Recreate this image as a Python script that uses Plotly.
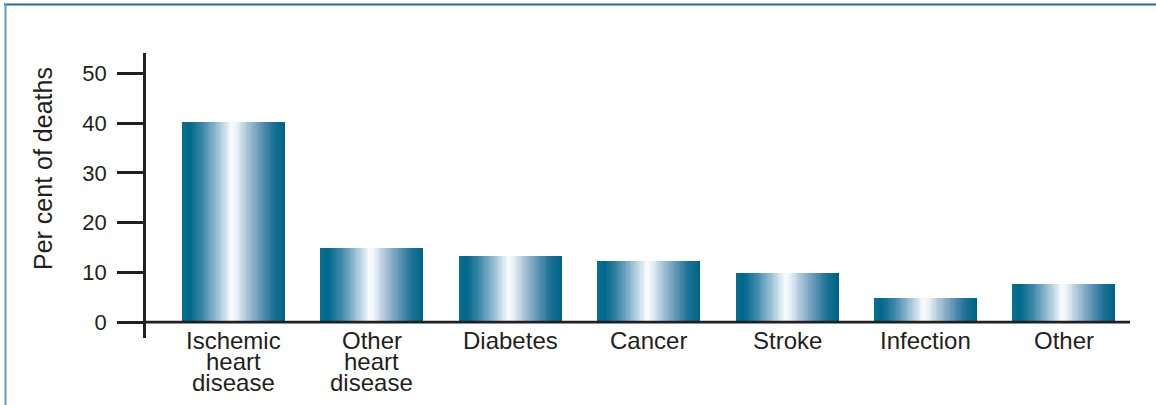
import plotly.graph_objects as go
from plotly.colors import sample_colorscale

# ---- data ----
categories = ["Ischemic heart disease", "Other heart disease", "Diabetes",
              "Cancer", "Stroke", "Infection", "Other"]
tick_labels = ["Ischemic<br>heart<br>disease", "Other<br>heart<br>disease", "Diabetes",
               "Cancer", "Stroke", "Infection", "Other"]
values = [40.2, 14.9, 13.3, 12.2, 9.8, 4.9, 7.6]
y_ticks = [0, 10, 20, 30, 40, 50]
y_title = "Per cent of deaths"

# ---- style ----
INK = "#231f20"
FONT = "Liberation Sans, Arial, Helvetica, sans-serif"
gradient = [
    [0.00, "rgb(6,112,145)"],
    [0.07, "rgb(0,104,138)"],
    [0.20, "rgb(62,137,170)"],
    [0.32, "rgb(142,182,205)"],
    [0.42, "rgb(206,225,236)"],
    [0.48, "rgb(250,252,253)"],
    [0.53, "rgb(232,241,247)"],
    [0.63, "rgb(172,199,217)"],
    [0.76, "rgb(102,153,184)"],
    [0.89, "rgb(28,114,150)"],
    [1.00, "rgb(0,100,134)"],
]
BAR_W = 0.745
N = 60
step = BAR_W / N
cols = sample_colorscale(gradient, [i / (N - 1) for i in range(N)])

fig = go.Figure()
for i in range(N):
    # each slice spans from its left edge to the bar's right edge; later slices cover earlier ones
    fig.add_trace(go.Bar(
        x=categories, y=values,
        offset=-BAR_W / 2 + i * step,
        width=BAR_W - i * step,
        marker=dict(color=cols[i], line=dict(width=0)),
        showlegend=False, hoverinfo="skip" if i else "x+y",
    ))

L, R, T, B = 146, 26, 53, 67
W, H = 1156, 405
pw, ph = W - L - R, H - T - B

def px_x(p):
    return (p - L) / pw

def px_y(p):
    return (H - B - p) / ph

annotations = []
for cat, lab in zip(categories, tick_labels):
    for j, line in enumerate(lab.split("<br>")):
        annotations.append(dict(
            x=cat, xref="x", y=0, yref="y", yanchor="middle", xanchor="center",
            yshift=-18 - 21 * j, text=line, showarrow=False, borderpad=0,
            font=dict(family=FONT, size=24, color=INK),
        ))
annotations.append(dict(
    x=px_x(43), xref="paper", y=px_y(169), yref="paper", text=y_title,
    textangle=-90, showarrow=False, xanchor="center", yanchor="middle",
    font=dict(family=FONT, size=25, color=INK),
))

shapes = [
    dict(type="line", xref="paper", yref="paper", x0=px_x(4), x1=px_x(1160),
         y0=px_y(4.5), y1=px_y(4.5), line=dict(color="#1d6b93", width=2), layer="below"),
    dict(type="line", xref="paper", yref="paper", x0=px_x(5.5), x1=px_x(5.5),
         y0=px_y(4), y1=px_y(410), line=dict(color="#5e9cbc", width=2), layer="below"),
    dict(type="line", xref="paper", yref="y", x0=0, x1=1, y0=0, y1=0,
         line=dict(color=INK, width=2.6), layer="above"),
]

fig.update_layout(
    width=W, height=H,
    margin=dict(l=L, r=R, t=T, b=B, autoexpand=False),
    paper_bgcolor="white", plot_bgcolor="white",
    barmode="overlay", bargap=0,
    font=dict(family=FONT, color=INK),
    annotations=annotations, shapes=shapes,
    xaxis=dict(type="category", range=[-0.632, 6.478], showticklabels=False,
               ticks="", showline=False, showgrid=False, zeroline=False,
               fixedrange=True),
    yaxis=dict(range=[-3.2, 54.1], tickvals=y_ticks, ticks="outside", ticklen=26,
               tickwidth=2.5, tickcolor=INK, showline=True, linewidth=2.6,
               linecolor=INK, showgrid=False, zeroline=False,
               tickfont=dict(family=FONT, size=22, color=INK),
               ticklabelstandoff=6, fixedrange=True),
)

fig.write_html("out.html", config={"displayModeBar": False})
